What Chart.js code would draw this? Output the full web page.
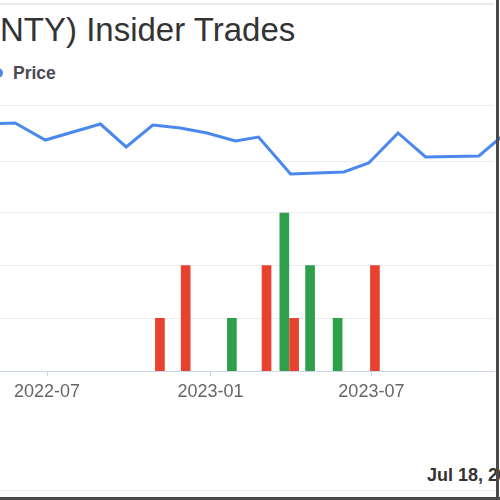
<!DOCTYPE html>
<html>
<head>
<meta charset="utf-8">
<script src="https://cdn.jsdelivr.net/npm/chart.js@4.4.1/dist/chart.umd.min.js"></script>
<style>
  html, body { margin:0; padding:0; background:#fff; }
  #page { position:relative; width:500px; height:500px; overflow:hidden; background:#fff; font-family:"Liberation Sans", Arial, sans-serif; }
  #title { position:absolute; left:-11px; top:13px; font-size:33px; line-height:33px; color:#333; white-space:nowrap; }
  #legend { position:absolute; left:-7px; top:64px; height:18px; white-space:nowrap; }
  #legend .dot { position:absolute; left:0; top:4px; width:10px; height:10px; border-radius:50%; background:#4a88ee; }
  #legend .lbl { position:absolute; left:20px; top:0; font-size:17.5px; line-height:18px; font-weight:bold; color:#4a4a58; }
  #chartwrap { position:absolute; left:0; top:90px; width:500px; height:321px; }
  #footer { position:absolute; left:427px; top:465px; font-size:18px; line-height:20px; font-weight:bold; color:#333; white-space:nowrap; }
  .fr { position:absolute; }
</style>
</head>
<body>
<div id="page">
  <div id="title">(NTY) Insider Trades</div>
  <div id="legend"><span class="dot"></span><span class="lbl">Price</span></div>
  <div id="chartwrap"><canvas id="c" width="500" height="321"></canvas></div>
  <div id="footer">Jul 18, 2023</div>
  <div class="fr" style="left:0;top:3px;width:494px;height:2px;background:#ebebef;"></div>
  <div class="fr" style="left:0;top:490px;width:496px;height:1px;background:#ececec;"></div>
  <div class="fr" style="left:496px;top:0;width:3px;height:500px;background:#4a4a4a;"></div>
  <div class="fr" style="left:0;top:497px;width:500px;height:3px;background:#4a4a4a;"></div>
</div>
<script>
// ---- data ----
const priceDates  = ['2022-04-27','2022-05-26','2022-06-29','2022-08-30','2022-09-28','2022-10-28','2022-11-28','2022-12-28','2023-01-29','2023-02-24','2023-04-01','2023-05-31','2023-06-28','2023-07-31','2023-08-31','2023-10-30','2023-11-28'];
const priceValues = [28.39, 28.48, 26.96, 28.39, 26.34, 28.30, 28.04, 27.59, 26.88, 27.23, 23.93, 24.11, 24.91, 27.59, 25.45, 25.54, 27.50];

const buyDates   = ['2023-01-25','2023-03-25','2023-04-23','2023-05-24'];
const buyCounts  = [1, 3, 2, 1];
const sellDates  = ['2022-11-05','2022-12-04','2023-03-05','2023-04-05','2023-07-05'];
const sellCounts = [1, 2, 2, 1, 2];

const tickDates  = ['2022-07-01','2023-01-01','2023-07-01'];
const tickLabels = ['2022-07','2023-01','2023-07'];
const xRange     = ['2022-05-09','2023-11-16'];

const priceGridValues = [25, 30];
const countGridValues = [1, 2, 3];

// ---- helpers ----
const ORIGIN = Date.UTC(2022, 6, 1);
function dayNum(s) {
  const p = s.split('-').map(Number);
  return (Date.UTC(p[0], p[1] - 1, p[2]) - ORIGIN) / 86400000;
}
const pts = (ds, vs) => ds.map((d, i) => ({ x: dayNum(d), y: vs[i] }));

const tickFont = { family: '"Liberation Sans", Arial, sans-serif', size: 18 };

new Chart(document.getElementById('c'), {
  type: 'line',
  data: {
    datasets: [
      {
        type: 'line', label: 'Price', data: pts(priceDates, priceValues),
        yAxisID: 'yp', borderColor: '#4a88ee', borderWidth: 3, pointRadius: 0,
        tension: 0, clip: false, order: 0
      },
      {
        type: 'bar', label: 'Sell', data: pts(sellDates, sellCounts),
        yAxisID: 'yb', backgroundColor: '#e8412f', barThickness: 9, grouped: false, order: 1
      },
      {
        type: 'bar', label: 'Buy', data: pts(buyDates, buyCounts),
        yAxisID: 'yb', backgroundColor: '#2fa04a', barThickness: 9, grouped: false, order: 2
      }
    ]
  },
  options: {
    responsive: false,
    animation: false,
    devicePixelRatio: 1,
    layout: { padding: { left: 0, right: 6, top: 0, bottom: 0 } },
    plugins: { legend: { display: false }, title: { display: false }, tooltip: { enabled: false } },
    scales: {
      x: {
        type: 'linear', offset: false,
        min: dayNum(xRange[0]), max: dayNum(xRange[1]),
        afterBuildTicks: s => { s.ticks = tickDates.map(d => ({ value: dayNum(d) })); },
        afterFit: s => { s.height = 40; },
        grid: { offset: false, drawOnChartArea: false, drawTicks: true, tickLength: 5, tickColor: '#ccd6eb', color: '#ccd6eb' },
        border: { display: true, color: '#ccd6eb', width: 1 },
        ticks: { color: '#666', font: tickFont, padding: 5, maxRotation: 0, autoSkip: false,
                 callback: (v, i) => tickLabels[i] }
      },
      yp: {
        type: 'linear', position: 'left', min: 6.339, max: 31.428,
        afterBuildTicks: s => { s.ticks = priceGridValues.map(v => ({ value: v })); },
        grid: { color: '#ededed', drawTicks: false },
        border: { display: false },
        ticks: { display: false }
      },
      yb: {
        type: 'linear', position: 'left', min: 0, max: 5.335,
        afterBuildTicks: s => { s.ticks = countGridValues.map(v => ({ value: v })); },
        grid: { color: '#ededed', drawTicks: false },
        border: { display: false },
        ticks: { display: false }
      }
    }
  }
});
</script>
</body>
</html>
